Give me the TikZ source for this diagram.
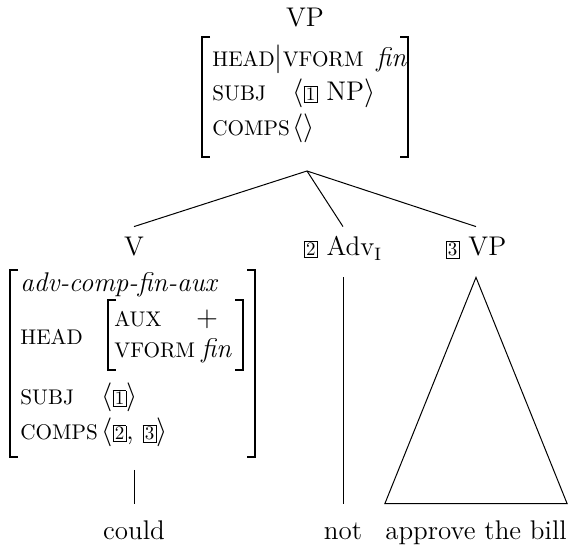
\documentclass[tikz,border=0pt]{standalone}
\newcommand{\tg}[1]{{\setlength{\fboxsep}{0.7pt}\setlength{\fboxrule}{0.4pt}\fbox{\fontsize{9.5}{10}\selectfont #1}}}
\newcommand{\fsc}[1]{{\fontsize{10.6}{12}\selectfont\MakeUppercase{#1}}}
\tikzset{
 every node/.style={font=\fontsize{13.5}{16}\selectfont, inner sep=0pt},
 txt/.style={anchor=base west},
 lbl/.style={anchor=base, text height=9.5pt, text depth=5.5pt, inner ysep=5pt, inner xsep=0pt},
 word/.style={anchor=base, text height=10pt, inner ysep=8pt, inner xsep=0pt},
 edge/.style={line width=0.5pt},
 brk/.style={line width=0.7pt},
}
\begin{document}
\begin{tikzpicture}[x=0.5pt,y=-0.5pt]
\useasboundingbox (0,0) rectangle (569,549);
% top VP with AVM
\node[anchor=base] (vp) at (305,27) {VP};
\draw[brk] (210,37) -- (202,37) -- (202,157) -- (210,157);
\draw[brk] (400,37) -- (408,37) -- (408,157) -- (400,157);
\node[txt] (th) at (212,67) {\fsc{head}$|$\fsc{vform}};
\node[txt] (thv) at (376,67) {\textit{fin}};
\node[txt] (ts) at (212,101) {\fsc{subj}};
\node[txt] (tsv) at (292,101) {$\langle$\tg{1} NP$\rangle$};
\node[txt] (tc) at (212,136) {\fsc{comps}};
\node[txt] (tcv) at (292,136) {$\langle\rangle$};
\coordinate (br) at (307,171);
% V with AVM
\node[lbl] (v) at (134,256) {V};
\draw[brk] (18,270) -- (10,270) -- (10,457) -- (18,457);
\draw[brk] (247,270) -- (255,270) -- (255,457) -- (247,457);
\node[txt] (vt) at (20,292) {\textit{adv-comp-fin-aux}};
\node[txt] (vh) at (20,345) {\fsc{head}};
\draw[brk] (116,300) -- (108,300) -- (108,370) -- (116,370);
\draw[brk] (235,300) -- (243,300) -- (243,370) -- (235,370);
\node[txt] (va) at (114,327) {\fsc{aux}};
\node[anchor=base] (vav) at (207,327) {$+$};
\node[txt] (vf) at (114,358) {\fsc{vform}};
\node[txt] (vfv) at (201,358) {\textit{fin}};
\node[txt] (vs) at (20,405) {\fsc{subj}};
\node[txt] (vsv) at (101,405) {$\langle$\tg{1}$\rangle$};
\node[txt] (vc) at (20,440) {\fsc{comps}};
\node[txt] (vcv) at (101,440) {$\langle$\tg{2}, \tg{3}$\rangle$};
\coordinate (vbot) at (134,470);
% other daughters
\node[lbl] (adv) at (343,256) {\tg{2} Adv$_{\mathrm{I}}$};
\node[lbl] (vp3) at (476,256) {\tg{3} VP};
% words
\node[word] (could) at (134,540) {could};
\node[word] (not) at (343,540) {not};
\node[word] (abill) at (476,540) {approve the bill};
% edges
\draw[edge] (br) -- (v.north);
\draw[edge] (br) -- (adv.north);
\draw[edge] (br) -- (vp3.north);
\draw[edge] (vbot) -- (could.north);
\draw[edge] (adv.south) -- (not.north);
\draw[edge] (vp3.south) -- (abill.north west) -- (abill.north east) -- cycle;
\end{tikzpicture}
\end{document}
